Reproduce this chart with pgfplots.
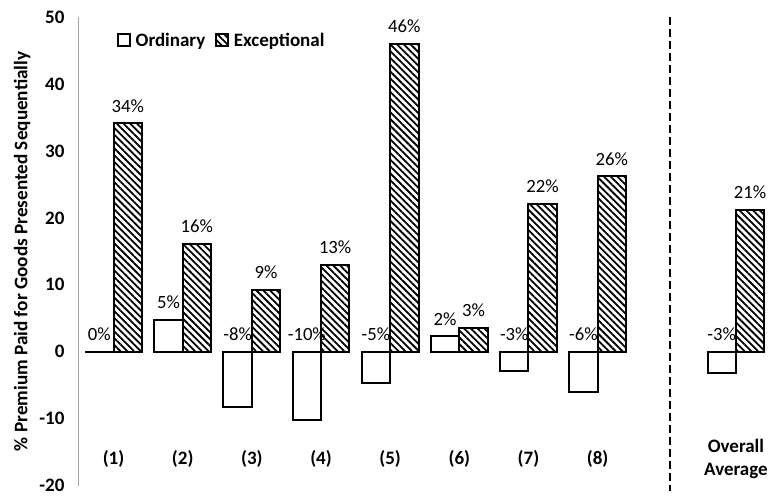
\documentclass[border=0pt]{standalone}
\usepackage{fontspec}
\setmainfont{Carlito}
\usepackage{pgfplots}
\pgfplotsset{compat=1.18}
\usetikzlibrary{patterns.meta}
\begin{document}
\begin{tikzpicture}
\begin{axis}[
  at={(0,0)}, anchor=south west,
  scale only axis, width=692pt, height=469pt,
  xmin=-0.5, xmax=9.5, ymin=-20, ymax=50,
  ytick distance=10,
  axis lines*=left,
  x axis line style={draw=none},
  y axis line style={draw=black!35, line width=1pt},
  major tick length=0pt,
  xtick={0,1,2,3,4,5,6,7,9},
  xticklabels={(1),(2),(3),(4),(5),(6),(7),(8),{Overall\\Average}},
  xticklabel style={font=\fontsize{19}{23}\selectfont\bfseries, align=center, anchor=center, yshift=27pt},
  yticklabel style={font=\fontsize{19}{23}\selectfont\bfseries, anchor=east, xshift=-11pt},
  /pgf/number format/assume math mode=true,
  ylabel={\% Premium Paid for Goods Presented Sequentially},
  ylabel style={font=\fontsize{19.2}{23}\selectfont\bfseries, at={(axis description cs:-0.082,0.5)}, anchor=center},
  clip=false,
  legend columns=2,
  legend style={draw=none, fill=none, at={(axis description cs:0.055,0.949)}, anchor=west, inner sep=0pt,
    font=\fontsize{19}{23}\selectfont\bfseries,
    /tikz/every odd column/.append style={column sep=3pt},
    /tikz/every even column/.append style={column sep=8pt}},
  legend image code/.code={\draw[#1, line width=1.5pt] (0pt,-5pt) rectangle (12pt,7pt);},
]
\addplot[ybar, bar width=0.41, bar shift=-0.205, fill=white, draw=black, line width=2pt]
  coordinates {(0,0) (1,4.7) (2,-8.2) (3,-10.2) (4,-4.6) (5,2.3) (6,-2.8) (7,-6.0) (9,-3.2)};
\addlegendentry{Ordinary}
\addplot[ybar, bar width=0.41, bar shift=0.205, draw=black, line width=2pt,
  pattern={Lines[angle=-45, distance=4.8pt, line width=1.8pt]}, pattern color=black]
  coordinates {(0,34.1) (1,16.1) (2,9.25) (3,13.0) (4,46.0) (5,3.5) (6,22.1) (7,26.2) (9,21.2)};
\addlegendentry{Exceptional}
\addplot[only marks, mark=none, nodes near coords, point meta=explicit symbolic,
  nodes near coords style={font=\fontsize{18.7}{22}\selectfont, anchor=south, inner sep=0pt, yshift=11pt}]
  coordinates {(-0.205,0)[0\%] (0.795,4.7)[5\%] (1.795,0)[-8\%] (2.795,0)[-10\%] (3.795,0)[-5\%]
   (4.795,2.3)[2\%] (5.795,0)[-3\%] (6.795,0)[-6\%] (8.795,0)[-3\%]
   (0.205,34.1)[34\%] (1.205,16.1)[16\%] (2.205,9.25)[9\%] (3.205,13.0)[13\%] (4.205,46.0)[46\%]
   (5.205,3.5)[3\%] (6.205,22.1)[22\%] (7.205,26.2)[26\%] (9.205,21.2)[21\%]};
\addplot[black, line width=2pt, dash pattern=on 8pt off 4pt, forget plot]
  coordinates {(8.04,50) (8.04,-20.8)};
\end{axis}
\path[use as bounding box] (-79pt,-6pt) rectangle (692pt,486pt);
\end{tikzpicture}
\end{document}
